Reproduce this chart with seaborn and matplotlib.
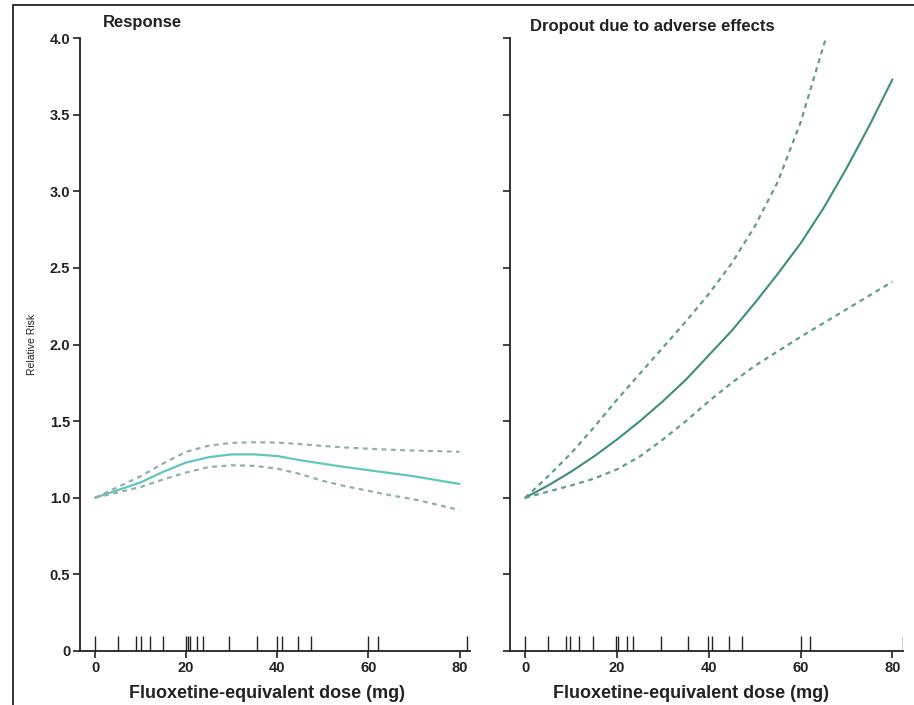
import numpy as np
import pandas as pd
import matplotlib
matplotlib.use("Agg")
import matplotlib.pyplot as plt
import seaborn as sns
from matplotlib.patches import Rectangle

sns.set_style("ticks")
plt.rcParams['font.family'] = ['Liberation Sans', 'DejaVu Sans']

# ---- data ----
dose = [0, 5, 10, 15, 20, 25, 30, 35, 40, 45, 50, 55, 60, 65, 70, 75, 80]

resp_est = [1.0, 1.05, 1.10, 1.17, 1.23, 1.265, 1.283, 1.283, 1.272, 1.245, 1.222, 1.20, 1.18, 1.16, 1.14, 1.115, 1.09]
resp_hi = [1.0, 1.07, 1.14, 1.225, 1.30, 1.34, 1.358, 1.362, 1.36, 1.35, 1.338, 1.328, 1.32, 1.313, 1.308, 1.304, 1.30]
resp_lo = [1.0, 1.035, 1.07, 1.12, 1.165, 1.20, 1.212, 1.208, 1.19, 1.155, 1.11, 1.075, 1.045, 1.015, 0.99, 0.955, 0.92]

drop_est = [1.0, 1.08, 1.17, 1.27, 1.38, 1.50, 1.63, 1.77, 1.93, 2.09, 2.27, 2.46, 2.66, 2.89, 3.15, 3.43, 3.73]
drop_hi_dose = [0, 5, 10, 15, 20, 25, 30, 35, 40, 45, 50, 55, 60, 65, 65.5]
drop_hi = [1.0, 1.14, 1.29, 1.46, 1.64, 1.81, 1.98, 2.15, 2.33, 2.53, 2.77, 3.06, 3.45, 3.95, 4.0]
drop_lo = [1.0, 1.04, 1.08, 1.125, 1.185, 1.27, 1.38, 1.50, 1.63, 1.75, 1.86, 1.955, 2.05, 2.14, 2.23, 2.32, 2.41]

rug_left = [0, 5, 9, 10, 12, 15, 20, 20.4, 20.8, 22.3, 23.7, 29.5, 35.5, 40, 41, 44.6, 47.4, 60, 62.2, 81.7]
rug_right = [0, 5, 9, 9.7, 11.8, 14.7, 19.8, 20.2, 22.1, 23.5, 29.5, 35.5, 39.8, 40.6, 44.4, 47.2, 60, 62.1, 82.2]

y_ticks = [0, 0.5, 1.0, 1.5, 2.0, 2.5, 3.0, 3.5, 4.0]
y_ticklabels = ["0", "0.5", "1.0", "1.5", "2.0", "2.5", "3.0", "3.5", "4.0"]
x_ticks = [0, 20, 40, 60, 80]

titles = ["Response", "Dropout due to adverse effects"]
xlabel = "Fluoxetine-equivalent dose (mg)"
ylabel = "Relative Risk"

# ---- figure ----
fig = plt.figure(figsize=(9.14, 7.05), dpi=100)
fig.patch.set_facecolor("white")

# outer frame
fig.add_artist(Rectangle((13 / 914, -0.1), 1.2, 1 - 5 / 705 + 0.1, transform=fig.transFigure,
                         fill=False, edgecolor="#333333", lw=1.4))

axL = fig.add_axes([80 / 914, 1 - 651 / 705, 390 / 914, 613 / 705])
axR = fig.add_axes([510 / 914, 1 - 651 / 705, 393 / 914, 613 / 705])

left_solid = "#62c6bd"
left_dash = "#8fb0ac"
right_solid = "#3f8d7c"
right_dash = "#5d9d92"
dash = (0, (2.2, 2.0))

sns.lineplot(x=dose, y=resp_est, ax=axL, color=left_solid, lw=1.6)
sns.lineplot(x=dose, y=resp_hi, ax=axL, color=left_dash, lw=1.6, linestyle=dash)
sns.lineplot(x=dose, y=resp_lo, ax=axL, color=left_dash, lw=1.6, linestyle=dash)

sns.lineplot(x=dose, y=drop_est, ax=axR, color=right_solid, lw=1.5)
sns.lineplot(x=drop_hi_dose, y=drop_hi, ax=axR, color=right_dash, lw=1.6, linestyle=dash)
sns.lineplot(x=dose, y=drop_lo, ax=axR, color=right_dash, lw=1.6, linestyle=dash)

sns.rugplot(x=rug_left, ax=axL, height=0.024, color="#222222", lw=1.1, expand_margins=False)
sns.rugplot(x=rug_right, ax=axR, height=0.024, color="#222222", lw=1.1, expand_margins=False)

title_pos = [(1.75, 4.07), (1.1, 4.045)]
xlabel_x = [0.48, 0.46]

for i, ax in enumerate([axL, axR]):
    ax.set_xlim(-3.3, 82.3)
    ax.set_ylim(0, 4.0)
    ax.set_facecolor("none")
    ax.set_xticks(x_ticks)
    ax.set_xticklabels([str(t) for t in x_ticks], fontsize=10.5, fontweight="bold", color="#222222")
    ax.set_yticks(y_ticks)
    if i == 0:
        ax.set_yticklabels(y_ticklabels, fontsize=10.5, fontweight="bold", color="#222222")
        ax.set_ylabel(ylabel, fontsize=7.5, labelpad=9, color="#222222")
    else:
        ax.set_yticklabels([])
        ax.set_ylabel("")
    ax.tick_params(direction="out", length=5, width=1.2, color="#222222", pad=2)
    for s in ["left", "bottom"]:
        ax.spines[s].set_linewidth(1.3)
        ax.spines[s].set_color("#222222")
    ax.spines["top"].set_visible(False)
    ax.spines["right"].set_visible(False)
    ax.set_xlabel(xlabel, fontsize=13, fontweight="bold", color="#222222")
    ax.xaxis.set_label_coords(xlabel_x[i], -0.055)
    ax.text(title_pos[i][0], title_pos[i][1], titles[i], fontsize=12, fontweight="bold",
            color="#222222", ha="left", va="baseline", clip_on=False)

fig.savefig("out.png", dpi=100, facecolor="white")
